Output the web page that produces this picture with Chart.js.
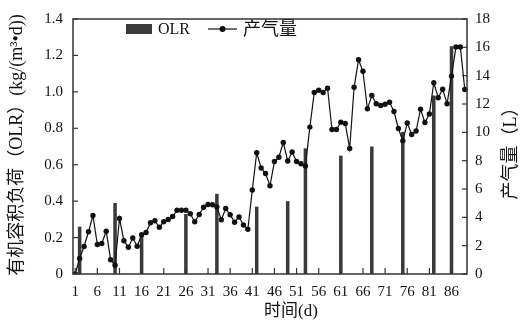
<!DOCTYPE html>
<html>
<head>
<meta charset="utf-8">
<script src="https://cdn.jsdelivr.net/npm/chart.js@4.4.0/dist/chart.umd.min.js"></script>
<style>
html, body { margin: 0; padding: 0; background: #fff; }
</style>
</head>
<body>
<canvas id="grafico" width="531" height="323"></canvas>
<script>
// dias (categorias do eixo x)
const DIAS = [1,2,3,4,5,6,7,8,9,10,11,12,13,14,15,16,17,18,19,20,21,22,23,24,25,26,27,28,29,30,
  31,32,33,34,35,36,37,38,39,40,41,42,43,44,45,46,47,48,49,50,51,52,53,54,55,56,57,58,59,60,
  61,62,63,64,65,66,67,68,69,70,71,72,73,74,75,76,77,78,79,80,81,82,83,84,85,86,87,88,89]

// 产气量 (L), um valor por dia
const GAS = [0, 1.09, 1.94, 2.98, 4.13, 2.08, 2.15, 3.02, 1.01, 0.62,
  3.92, 2.35, 1.89, 2.54, 1.96, 2.77, 2.93, 3.62, 3.76, 3.30,
  3.69, 3.85, 4.06, 4.50, 4.50, 4.50, 4.25, 3.69, 4.20, 4.71,
  4.91, 4.89, 4.73, 3.83, 4.62, 4.18, 3.65, 4.02, 3.46, 3.16,
  5.93, 8.56, 7.48, 7.09, 6.23, 7.94, 8.24, 9.28, 7.98, 8.61,
  7.94, 7.78, 7.62, 10.37, 12.81, 12.97, 12.81, 13.11, 10.20, 10.20,
  10.72, 10.62, 8.86, 13.18, 15.12, 14.31, 11.66, 12.60, 12.02, 11.89,
  11.98, 12.12, 11.47, 10.27, 9.40, 10.66, 9.85, 10.09, 11.63, 10.69,
  11.29, 13.50, 12.44, 13.04, 12.02, 13.97, 16.02, 16.02, 13.02]

// OLR (kg/(m3*d)) so nos dias em que mudou
const OLR_DIAS = [2, 10, 16, 26, 33, 42, 49, 53, 61, 68, 75, 82, 86]
const OLR_VALORES = [0.26, 0.39, 0.21, 0.33, 0.44, 0.37, 0.40, 0.69, 0.65, 0.70, 0.78, 0.98, 1.25]

const FONTE = "'Liberation Serif', 'Noto Sans CJK SC', serif"
const COR_BARRA = '#3a3a3a'
const COR_LINHA = '#111'

var olrDados = DIAS.map(d => {
    let i = OLR_DIAS.indexOf(d)
    return i >= 0 ? OLR_VALORES[i] : null
})

function linha(ctx, x1, y1, x2, y2) {
    ctx.beginPath()
    ctx.moveTo(x1, y1)
    ctx.lineTo(x2, y2)
    ctx.stroke()
}

// moldura, ticks para dentro, titulos e legenda
const moldura = {
    id: 'moldura',
    afterDraw(chart) {
        const ctx = chart.ctx
        const a = chart.chartArea
        const sx = chart.scales.x, yL = chart.scales.yL, yR = chart.scales.yR
        ctx.save()
        ctx.strokeStyle = '#333'
        ctx.lineWidth = 1.5
        ctx.strokeRect(a.left, a.top, a.right - a.left, a.bottom - a.top)

        ctx.lineWidth = 1.2
        yL.ticks.forEach(t => {
            let y = yL.getPixelForValue(t.value)
            linha(ctx, a.left, y, a.left + 5, y)
        })
        yR.ticks.forEach(t => {
            let y = yR.getPixelForValue(t.value)
            linha(ctx, a.right - 5, y, a.right, y)
        })
        DIAS.forEach((d, i) => {
            if (i % 5 === 0) {
                let x = sx.getPixelForTick(i)
                linha(ctx, x, a.bottom, x, a.bottom - 6)
            }
        })

        // titulos
        ctx.fillStyle = '#111'
        ctx.textAlign = 'center'
        ctx.textBaseline = 'middle'
        ctx.font = '17px ' + FONTE
        ctx.fillText('时间(d)', 291, 312)

        ctx.font = '18px ' + FONTE
        ctx.save()
        ctx.translate(17, 145)
        ctx.rotate(-Math.PI / 2)
        ctx.fillText('有机容积负荷（OLR）(kg/(m³•d))', 0, 0)
        ctx.restore()

        ctx.save()
        ctx.translate(511, 149)
        ctx.rotate(-Math.PI / 2)
        ctx.fillText('产气量（L）', 0, 0)
        ctx.restore()

        // legenda
        ctx.textAlign = 'left'
        ctx.fillStyle = COR_BARRA
        ctx.fillRect(126, 24, 26, 10)
        ctx.fillStyle = '#111'
        ctx.font = '16px ' + FONTE
        ctx.fillText(chart.data.datasets[1].label, 158, 29.5)
        ctx.strokeStyle = COR_LINHA
        ctx.lineWidth = 1.2
        linha(ctx, 208, 29, 237, 29)
        ctx.beginPath()
        ctx.arc(222.5, 29, 3, 0, Math.PI * 2)
        ctx.fillStyle = COR_LINHA
        ctx.fill()
        ctx.fillStyle = '#111'
        ctx.font = '18px ' + FONTE
        ctx.fillText(chart.data.datasets[0].label, 243, 30)
        ctx.restore()
    }
}

var ctx = document.getElementById('grafico').getContext('2d')
var grafico = new Chart(ctx, {
    data: {
        labels: DIAS,
        datasets: [{
            type: 'line',
            label: '产气量',
            data: GAS,
            yAxisID: 'yR',
            borderColor: COR_LINHA,
            backgroundColor: COR_LINHA,
            borderWidth: 1.2,
            pointRadius: 2.7,
            pointBorderWidth: 0,
            tension: 0,
            order: 1
        }, {
            type: 'bar',
            label: 'OLR',
            data: olrDados,
            yAxisID: 'yL',
            backgroundColor: COR_BARRA,
            borderWidth: 0,
            categoryPercentage: 1,
            barPercentage: 0.8,
            order: 2
        }]
    },
    options: {
        responsive: false,
        animation: false,
        devicePixelRatio: 1,
        layout: { padding: { top: 14, left: 0, right: 0, bottom: 0 } },
        plugins: { legend: { display: false }, tooltip: { enabled: false } },
        scales: {
            x: {
                type: 'category',
                offset: true,
                grid: { display: false, drawTicks: false },
                border: { display: false },
                ticks: {
                    autoSkip: false, maxRotation: 0, minRotation: 0, padding: 9,
                    color: '#111', font: { family: FONTE, size: 15 },
                    callback: function (v, i) { return i % 5 === 0 ? this.getLabelForValue(v) : '' }
                },
                afterFit: s => { s.height = 49 }
            },
            yL: {
                position: 'left', min: 0, max: 1.4,
                grid: { display: false, drawTicks: false },
                border: { display: false },
                ticks: {
                    stepSize: 0.2, padding: 10, color: '#111', font: { family: FONTE, size: 15 },
                    callback: v => v === 0 ? '0' : v.toFixed(1)
                },
                afterFit: s => { s.width = 73 }
            },
            yR: {
                position: 'right', min: 0, max: 18,
                grid: { display: false, drawTicks: false },
                border: { display: false },
                ticks: { stepSize: 2, padding: 8, color: '#111', font: { family: FONTE, size: 15 } },
                afterFit: s => { s.width = 64 }
            }
        }
    },
    plugins: [moldura]
})
</script>
</body>
</html>
